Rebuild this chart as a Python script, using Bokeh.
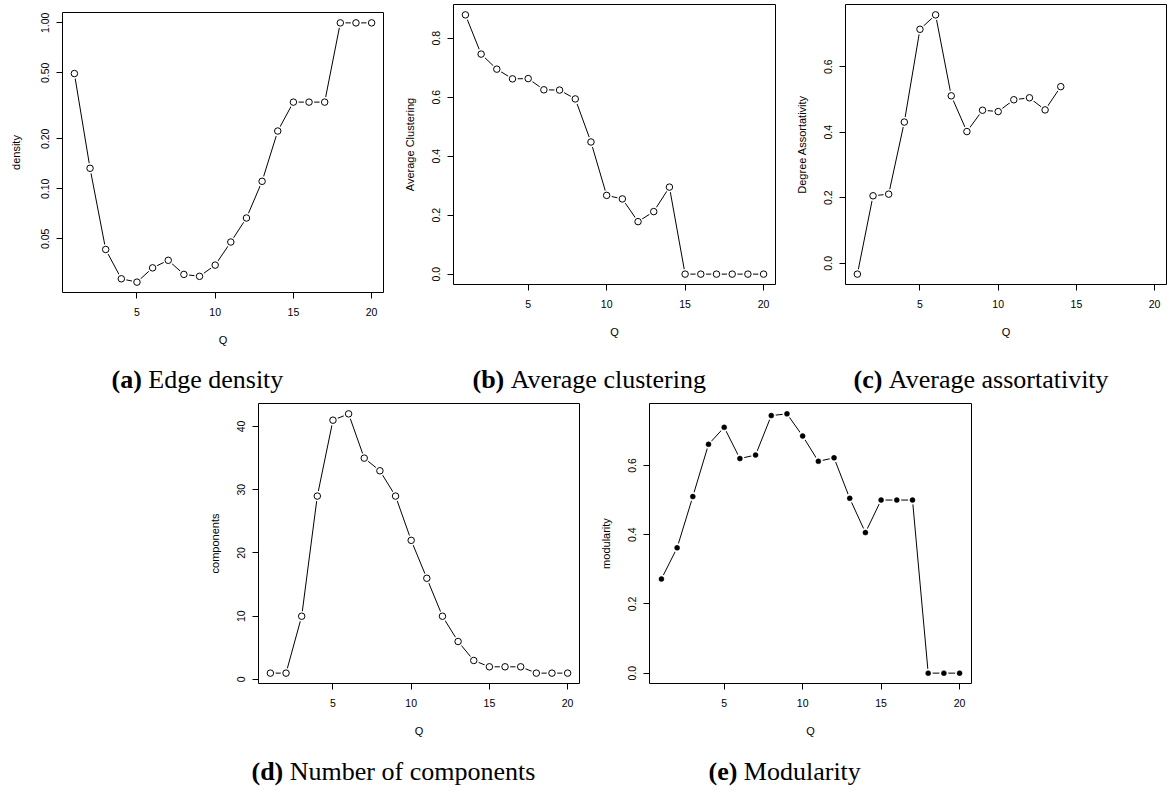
import math
from bokeh.plotting import figure
from bokeh.models import Range1d, FixedTicker, PrintfTickFormatter, Label, Spacer
from bokeh.layouts import row, column
from bokeh.embed import file_html
from bokeh.resources import INLINE

# ---------------- data ----------------
Q = list(range(1, 21))
density = [0.495, 0.133, 0.0431, 0.0287, 0.0274, 0.0334, 0.0371, 0.0305, 0.0297, 0.0347,
           0.0478, 0.0667, 0.111, 0.223, 0.333, 0.333, 0.333, 1.0, 1.0, 1.0]
clustering = [0.879, 0.746, 0.695, 0.662, 0.663, 0.625, 0.624, 0.594, 0.448, 0.267,
              0.255, 0.178, 0.212, 0.295, 0.0, 0.0, 0.0, 0.0, 0.0, 0.0]
assortativity = [-0.033, 0.206, 0.211, 0.431, 0.714, 0.758, 0.511, 0.402, 0.467, 0.463,
                 0.499, 0.505, 0.468, 0.539]
components = [1, 1, 10, 29, 41, 42, 35, 33, 29, 22, 16, 10, 6, 3, 2, 2, 2, 1, 1, 1]
modularity = [0.272, 0.362, 0.510, 0.661, 0.710, 0.620, 0.630, 0.744, 0.749, 0.685,
              0.612, 0.622, 0.505, 0.406, 0.500, 0.500, 0.500, 0.0, 0.0, 0.0]

x_ticks = [5, 10, 15, 20]
density_ticks = [0.05, 0.10, 0.20, 0.50, 1.00]
clustering_ticks = [0.0, 0.2, 0.4, 0.6, 0.8]
assort_ticks = [0.0, 0.2, 0.4, 0.6]
components_ticks = [0, 10, 20, 30, 40]
modularity_ticks = [0.0, 0.2, 0.4, 0.6]

x_label = "Q"
y_labels = ["density", "Average Clustering", "Degree Assortativity", "components", "modularity"]
captions = [("(a)", "Edge density"), ("(b)", "Average clustering"),
            ("(c)", "Average assortativity"), ("(d)", "Number of components"),
            ("(e)", "Modularity")]

# ---------------- styling helpers ----------------
SANS = "Liberation Sans"
SERIF = "Liberation Serif"
CAP_SIZE = 26
FRAME_H = 280
# Times bold advance widths (em) for caption prefix
BOLD_W = {"(": 0.333, ")": 0.333, "a": 0.5, "b": 0.556, "c": 0.444, "d": 0.556, "e": 0.444}


def r_pad(vals):
    lo, hi = min(vals), max(vals)
    d = (hi - lo) * 0.04
    return lo - d, hi + d


def panel(x, y, ylabel, yticks, fmt, width, height, left, right, top,
          log=False, filled=False, ylab_standoff=14):
    xlo, xhi = r_pad(Q)
    if log:
        lo, hi = r_pad([math.log10(v) for v in y])
        yr = Range1d(10 ** lo, 10 ** hi)
    else:
        lo, hi = r_pad(y)
        yr = Range1d(lo, hi)
    p = figure(width=width, height=height, x_range=Range1d(xlo, xhi), y_range=yr,
               y_axis_type="log" if log else "linear",
               output_backend="svg", toolbar_location=None,
               min_border_left=left, min_border_right=right, min_border_top=top,
               min_border_bottom=height - top - FRAME_H)
    p.grid.visible = False
    p.outline_line_color = "black"
    p.outline_line_width = 1
    p.background_fill_color = "white"
    p.border_fill_color = "white"

    p.xaxis.ticker = FixedTicker(ticks=x_ticks)
    p.yaxis.ticker = FixedTicker(ticks=yticks)
    p.yaxis.formatter = PrintfTickFormatter(format=fmt)
    for ax in (p.xaxis[0], p.yaxis[0]):
        ax.axis_line_color = None
        ax.major_tick_out = 6
        ax.major_tick_in = 0
        ax.major_tick_line_color = "black"
        ax.minor_tick_line_color = None
        ax.major_label_text_font = SANS
        ax.major_label_text_font_size = "10.5px"
        ax.major_label_text_color = "black"
        ax.axis_label_text_font = SANS
        ax.axis_label_text_font_size = "11px"
        ax.axis_label_text_font_style = "normal"
        ax.axis_label_text_color = "black"
    p.xaxis.major_label_standoff = 9
    p.xaxis.axis_label = x_label
    p.xaxis.axis_label_standoff = 15
    p.yaxis.major_label_standoff = 7
    p.yaxis.axis_label = ylabel
    p.yaxis.axis_label_standoff = ylab_standoff
    p.yaxis.major_label_orientation = "vertical"

    xs = x[:len(y)]
    p.line(xs, y, line_color="black", line_width=1)
    if filled:
        p.scatter(xs, y, size=9, fill_color="white", line_color=None)
        p.scatter(xs, y, size=5, fill_color="black", line_color="black", line_width=0.5)
    else:
        p.scatter(xs, y, size=10.5, fill_color="white", line_color=None)
        p.scatter(xs, y, size=6.5, fill_color="white", line_color="black", line_width=1)
    return p


def caption_strip(items, width, height, center_from_top):
    """items: list of (caption, left_x); one wide strip of SVG text under a row."""
    c = figure(width=width, height=height, x_range=Range1d(0, 1), y_range=Range1d(0, 1),
               output_backend="svg", toolbar_location=None, min_border=0,
               min_border_left=0, min_border_right=0, min_border_top=0, min_border_bottom=0,
               x_axis_location=None, y_axis_location=None)
    c.title.visible = False
    c.grid.visible = False
    c.outline_line_color = None
    c.border_fill_color = "white"
    c.background_fill_color = "white"
    y = height - center_from_top
    for (bold, rest), cap_x in items:
        bw = sum(BOLD_W.get(ch, 0.5) for ch in bold) * CAP_SIZE
        c.add_layout(Label(x=cap_x, y=y, x_units="screen", y_units="screen", text=bold,
                           text_font=SERIF, text_font_style="bold",
                           text_font_size=f"{CAP_SIZE}px", text_baseline="middle",
                           text_align="left", text_color="black"))
        c.add_layout(Label(x=cap_x + bw + 0.25 * CAP_SIZE, y=y, x_units="screen",
                           y_units="screen", text=rest, text_font=SERIF,
                           text_font_style="normal", text_font_size=f"{CAP_SIZE}px",
                           text_baseline="middle", text_align="left",
                           text_color="black"))
    return c


TOP_H, TOP_CAP = 352, 43
BOT_H, BOT_CAP = 352, 44

pa = panel(Q, density, y_labels[0], density_ticks, "%.2f",
           width=385, height=TOP_H, left=62, right=2, top=12, log=True, ylab_standoff=17)
pb = panel(Q, clustering, y_labels[1], clustering_ticks, "%.1f",
           width=392, height=TOP_H, left=68, right=2, top=4)
pc = panel(Q, assortativity, y_labels[2], assort_ticks, "%.1f",
           width=392, height=TOP_H, left=68, right=3, top=4)
pd = panel(Q, components, y_labels[3], components_ticks, "%d",
           width=389, height=BOT_H, left=66, right=2, top=8)
pe = panel(Q, modularity, y_labels[4], modularity_ticks, "%.1f",
           width=392, height=BOT_H, left=68, right=2, top=8, filled=True)

# caption centres (from the strip's top): top strip starts at 352, bottom at 747
cap_top = caption_strip([(captions[0], 111), (captions[1], 472), (captions[2], 853)],
                        1169, TOP_CAP, 27)
cap_bot = caption_strip([(captions[3], 251), (captions[4], 708)], 1169, BOT_CAP, 24)

layout = column(
    row(column(pa), column(pb), column(pc)),
    cap_top,
    row(Spacer(width=192, height=BOT_H), column(pd), column(pe)),
    cap_bot,
)

with open("out.html", "w") as f:
    f.write(file_html(layout, INLINE))
